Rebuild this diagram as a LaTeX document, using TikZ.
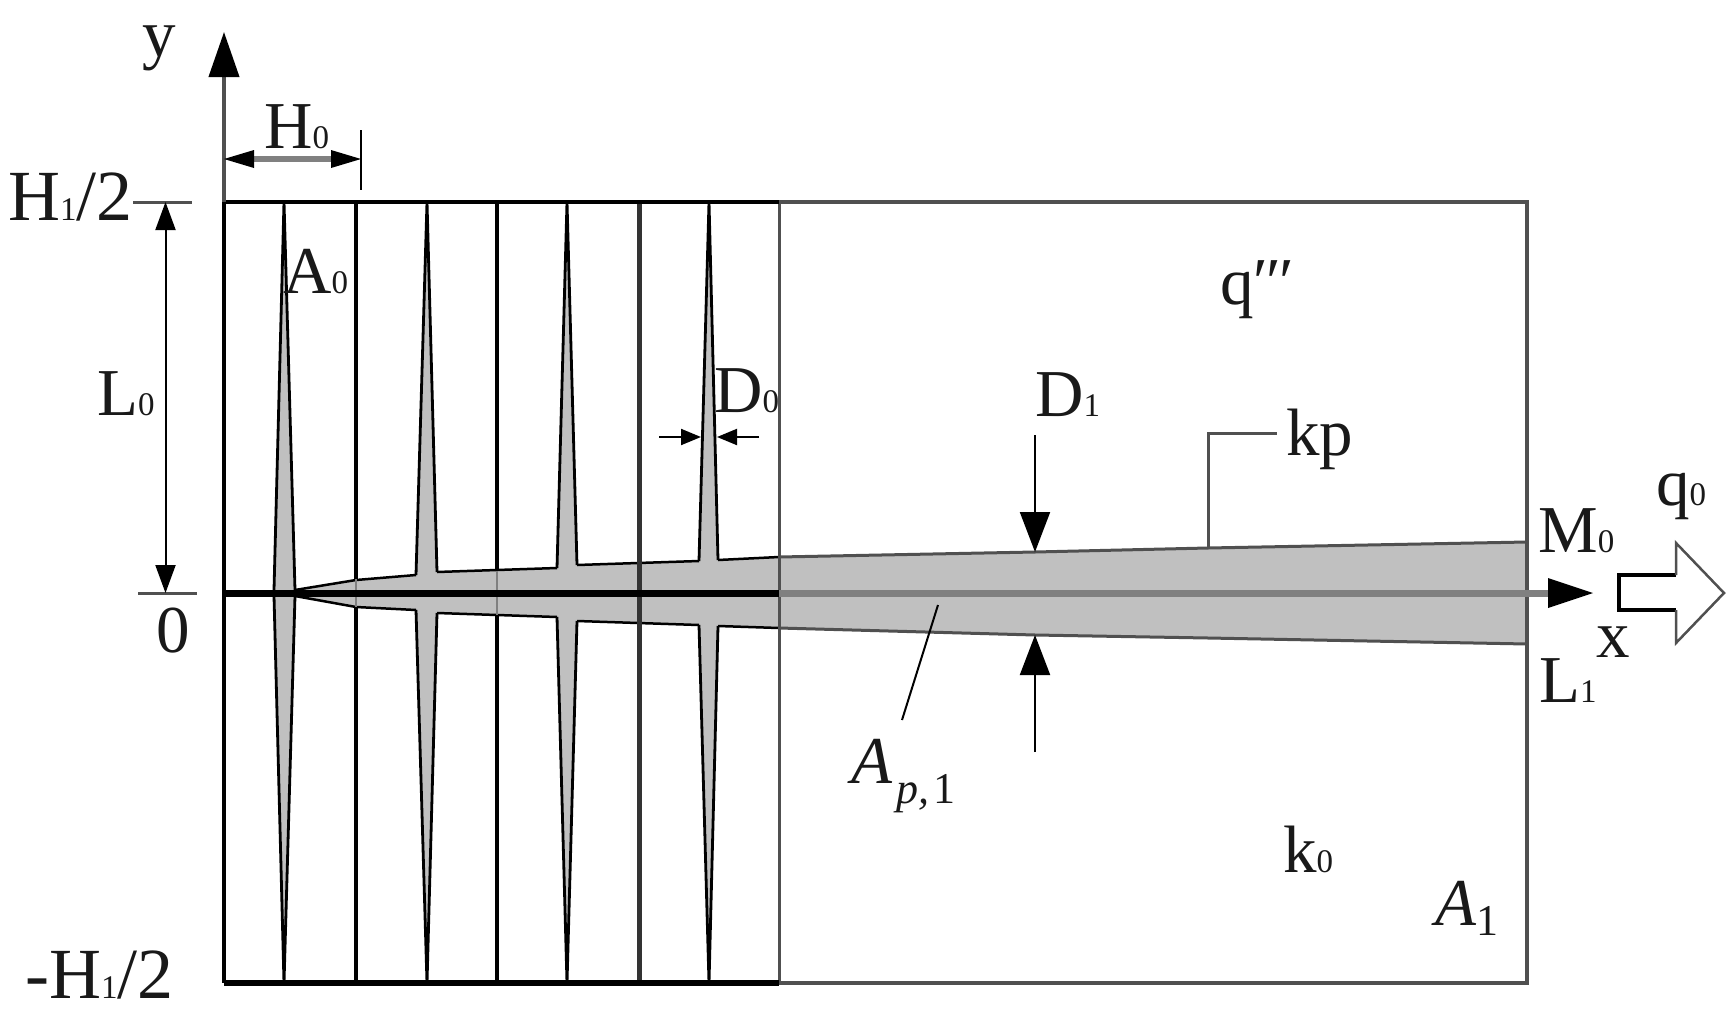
\documentclass[tikz,border=0pt]{standalone}
\usepackage{fontspec}
\setmainfont{Liberation Serif}
\usetikzlibrary{arrows.meta}
\newcommand{\sbd}[1]{{\fontsize{33}{33}\selectfont #1}}
\definecolor{fillgray}{HTML}{C0C0C0}
\definecolor{midgray}{HTML}{808080}
\definecolor{edgegray}{HTML}{505050}
\tikzset{
  lbl/.style={anchor=base west,inner sep=0pt,font=\fontsize{67}{67}\selectfont,text=black!90},
  biglbl/.style={lbl,font=\fontsize{72}{72}\selectfont},
  ink/.style={draw=black,line width=4pt},
  soft/.style={draw=edgegray,line width=3pt},
  thin/.style={draw=black,line width=2pt},
  finfill/.style={fill=fillgray,draw=none},
  bigtip/.style={-{Triangle[length=45pt,width=30pt,color=black]}},
  midtip/.style={-{Triangle[length=28pt,width=20pt]}},
  smalltip/.style={-{Triangle[length=20pt,width=16pt]}},
}
\begin{document}
\begin{tikzpicture}[x=1pt,y=-1pt]
\useasboundingbox (0,0) rectangle (1735,1017);
% stem and fins, fill
\fill[fillgray] (295,590)--(356,580)--(416,575)--(437,572)--(557,568)--(577,565)--(699,561)--(718,560)--(779,557)--(1035,552)--(1208,548)--(1527,542)
 --(1527,644)--(1208,638)--(1035,635)--(779,628)--(718,626)--(699,625)--(577,621)--(557,617)--(437,613)--(416,610)--(356,607)--(295,596)--cycle;
\fill[finfill] (284,202)--(295,590)--(295,596)--(284,983)--(274,596)--(274,590)--cycle;
\fill[finfill] (427,202)--(437,572)--(437,613)--(427,983)--(416,610)--(416,575)--cycle;
\fill[finfill] (567,202)--(577,565)--(577,621)--(567,983)--(557,617)--(557,568)--cycle;
\fill[finfill] (709,202)--(718,560)--(718,626)--(709,983)--(699,625)--(699,561)--cycle;
% stem outline
\draw[ink,line width=2.5pt] (295,590)--(356,580)--(416,575) (437,572)--(557,568) (577,565)--(699,561) (718,560)--(779,557);
\draw[ink,line width=2.5pt] (295,596)--(356,607)--(416,610) (437,613)--(557,617) (577,621)--(699,625) (718,626)--(779,628);
\draw[edgegray,line width=3pt] (779,557)--(1035,552)--(1208,548)--(1527,542);
\draw[edgegray,line width=3pt] (779,628)--(1035,635)--(1208,638)--(1527,644);
% fin outline
\draw[ink,line width=2.8pt] (274,590)--(284,202)--(295,590) (274,596)--(284,983)--(295,596);
\draw[ink,line width=2.8pt] (416,575)--(427,202)--(437,572) (416,610)--(427,983)--(437,613);
\draw[ink,line width=2.8pt] (557,568)--(567,202)--(577,565) (557,617)--(567,983)--(577,621);
\draw[ink,line width=2.8pt] (699,561)--(709,202)--(718,560) (699,625)--(709,983)--(718,626);
% division lines
\draw[ink] (355.5,202)--(355.5,579) (355.5,607)--(355.5,983);
\draw[ink,line width=3.5pt] (497,202)--(497,571) (497,615)--(497,983);
\draw[midgray,line width=2pt] (355.5,579)--(355.5,607) (497,571)--(497,615);
\draw[draw=black!80,line width=5pt] (639,202)--(639,983);
% outer box
\draw[soft,line width=3.5pt] (779,202)--(1527,202)--(1527,983)--(779,983);
\draw[soft] (779,202)--(779,983);
\draw[ink,line width=4.5pt] (224,202)--(779,202);
\draw[ink,line width=5.5pt] (224,983)--(779,983);
\draw[ink,line width=4pt] (224,202)--(224,983);
% axes
\coordinate (origin) at (224,593);
\coordinate (ytip) at (224,32);
\coordinate (xtip) at (1593,593);
\coordinate (xmid) at (779,593);
\draw[edgegray,line width=4pt,bigtip] (224,202)--(ytip);
\draw[midgray,line width=7pt] (xmid)--(1550,593);
\fill[black] (1548,578)--(xtip)--(1548,608)--cycle;
\draw[black,line width=7pt] (origin)--(xmid);
% dimension H0
\coordinate (h0a) at (224,159);
\coordinate (h0b) at (361,159);
\draw[midgray,line width=6pt] (250,159)--(335,159);
\fill[black] (h0a)--(254,150)--(254,168)--cycle;
\fill[black] (h0b)--(331,150)--(331,168)--cycle;
\draw[black,line width=1.6pt] (361,130)--(361,190);
% ticks
\draw[edgegray,line width=3pt] (133,202)--(192,202);
\draw[edgegray,line width=3pt] (138,593)--(197,593);
% dimension L0
\coordinate (l0a) at (165.5,202);
\coordinate (l0b) at (165.5,593);
\draw[thin,midtip] (165.5,395)--(l0a);
\draw[thin,midtip] (165.5,395)--(l0b);
% dimension D0
\coordinate (d0a) at (701,437);
\coordinate (d0b) at (717,437);
\draw[thin,smalltip] (659,437)--(d0a);
\draw[thin,smalltip] (759,437)--(d0b);
% dimension D1
\coordinate (d1a) at (1035,552);
\coordinate (d1b) at (1035,635);
\draw[thin,-{Triangle[length=40pt,width=30pt]}] (1035,435)--(d1a);
\draw[thin,-{Triangle[length=40pt,width=30pt]}] (1035,752)--(d1b);
% leaders
\coordinate (kpfoot) at (1208,548);
\coordinate (kpend) at (1277,433);
\draw[edgegray,line width=3pt] (kpfoot)|-(kpend);
\coordinate (apa) at (938,605);
\coordinate (apb) at (902,720);
\draw[black,line width=2pt] (apa)--(apb);
% open arrow
\draw[black,line width=3.5pt,line join=miter] (1676,575)--(1619,575)--(1619,610)--(1676,610);
\draw[edgegray,line width=2.5pt,line join=miter] (1676,575)--(1676,543)--(1724,593)--(1676,643)--(1676,610);
% labels
\node[lbl] (ly) at (142,56) {y};
\node[lbl] (lH0) at (264,148) {H\sbd{0}};
\node[biglbl] (lH1) at (8,220) {H\sbd{1}/2};
\node[lbl] (lA0) at (283,293) {A\sbd{0}};
\node[lbl] (lL0) at (97,415) {L\sbd{0}};
\node[lbl] (lD0) at (714,412) {D\sbd{0}};
\node[lbl] (lzero) at (156,652) {0};
\node[biglbl] (lmH1) at (25,998) {-H\sbd{1}/2};
\node[lbl] (lq) at (1220,304) {q′\kern-2pt′\kern-2pt′};
\node[lbl] (lD1) at (1035,416) {D\sbd{1}};
\node[lbl] (lkp) at (1286,455) {kp};
\node[lbl] (lM0) at (1538,552) {M\sbd{0}};
\node[lbl] (lL1) at (1539,702) {L\sbd{1}};
\node[lbl] (lx) at (1596,657) {x};
\node[lbl] (lq0) at (1656,505) {q\sbd{0}};
\node[lbl] (lAp) at (851,783) {\itshape A\kern4pt\raisebox{-20pt}{\fontsize{44}{44}\selectfont p,\kern4pt\upshape 1}};
\node[lbl] (lk0) at (1283,872) {k\sbd{0}};
\node[lbl] (lA1) at (1435,925) {\itshape A\raisebox{-10pt}{\fontsize{44}{44}\selectfont\upshape 1}};
\end{tikzpicture}
\end{document}
